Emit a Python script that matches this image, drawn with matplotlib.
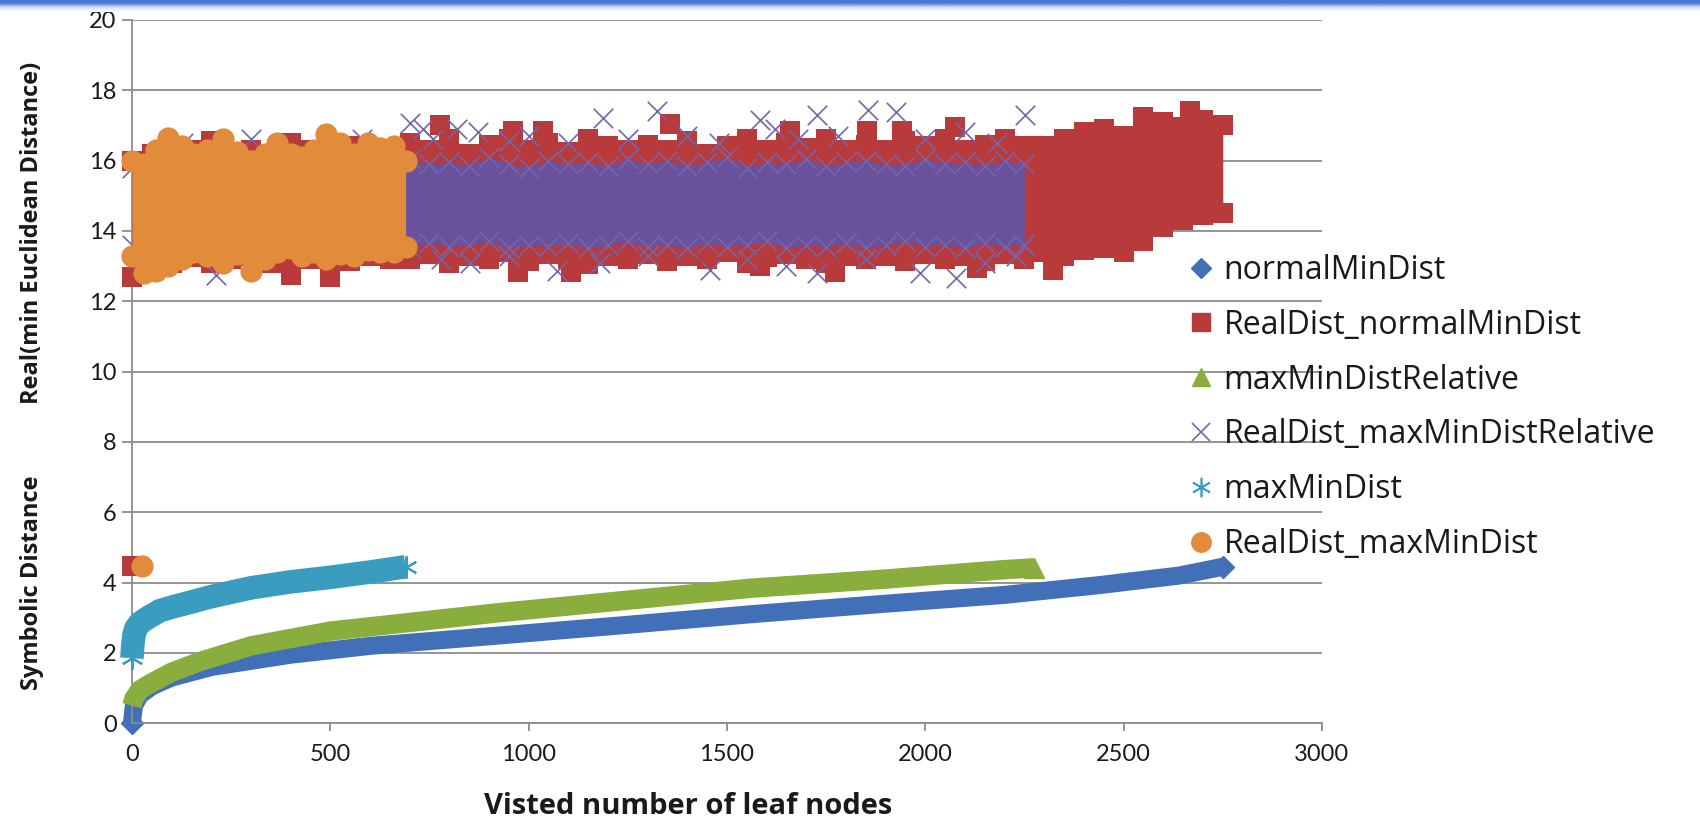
# scatter of symbolic vs real distances against visited leaf nodes
import numpy as np
import matplotlib.pyplot as plt
from matplotlib.lines import Line2D
from matplotlib.colors import LinearSegmentedColormap

# symbolic distance curves (dense series, read as band centre lines)
normal_x = [0, 5, 20, 50, 100, 200, 400, 600, 930, 1250, 1560, 1900, 2200, 2440, 2640, 2750]
normal_y = [0.0, 0.5, 0.8, 1.05, 1.3, 1.6, 1.95, 2.2, 2.5, 2.8, 3.1, 3.4, 3.65, 3.93, 4.2, 4.45]

relative_x = [0, 5, 20, 45, 100, 170, 300, 500, 930, 1250, 1560, 1900, 2190, 2275]
relative_y = [0.5, 0.7, 0.95, 1.12, 1.45, 1.75, 2.2, 2.62, 3.15, 3.5, 3.84, 4.1, 4.36, 4.42]

maxmin_x = [0, 2, 5, 10, 20, 40, 70, 100, 150, 200, 300, 400, 500, 600, 690]
maxmin_y = [1.85, 2.2, 2.5, 2.7, 2.85, 3.0, 3.2, 3.3, 3.45, 3.6, 3.85, 4.02, 4.15, 4.3, 4.45]

# RealDist_normalMinDist: cloud outline (edge marker centres) and stray points
red_x = list(range(0, 2751, 50))
red_hi = [16.0, 16.2, 16.1, 16.3, 16.55, 16.2, 16.3, 16.1, 16.5, 16.3, 16.2, 16.4, 16.1, 16.3,
          16.5, 16.3, 16.6, 16.2, 16.45, 16.6, 16.3, 16.5, 16.25, 16.6, 16.4, 16.3,
          16.45, 16.3, 16.55, 16.2, 16.4, 16.6, 16.3, 16.5, 16.35, 16.6, 16.3, 16.45,
          16.3, 16.55, 16.4, 16.6, 16.3, 16.45, 16.6, 16.4,
          16.4, 16.6, 16.8, 16.9, 16.7, 17.0, 17.1, 16.95, 17.15, 17.0]
red_lo = [12.7, 13.3, 13.1, 13.25, 13.1, 13.2, 13.3, 13.1, 12.75, 13.2, 12.7, 13.15, 13.3, 13.2,
          13.2, 13.35, 13.1, 13.3, 13.2, 13.4, 13.15, 13.35, 13.2, 13.05, 13.3, 13.2,
          13.35, 13.15, 13.3, 13.2, 13.4, 13.1, 13.25, 13.35, 13.2, 13.1, 13.3, 13.2,
          13.3, 13.15, 13.35, 13.2, 13.3, 13.15, 13.35, 13.2,
          13.4, 13.3, 13.45, 13.5, 13.4, 13.7, 14.1, 14.3, 14.45, 14.5]
red_px = [776, 961, 1037, 1357, 1659, 1853, 1941, 2075, 2548, 2668, 974, 1108, 1583, 1772, 2130, 2322, 0]
red_py = [17.0, 16.85, 16.85, 17.05, 16.85, 16.85, 16.85, 16.95, 17.25, 17.4, 12.84, 12.84, 13.0, 12.84,
          12.95, 12.9, 4.47]

# RealDist_maxMinDistRelative: dense core outline and stray crosses
purple_x = list(range(0, 2271, 50))
purple_hi = [15.8, 15.9, 15.85, 16.0, 15.8, 15.95, 15.85, 16.05, 15.9, 15.8, 16.0, 15.85, 15.95, 15.8,
             16.05, 15.9, 15.95, 15.85, 16.1, 15.9, 15.8, 16.0, 15.9, 15.95, 15.85, 16.05,
             15.9, 16.0, 15.85, 15.95, 16.1, 15.8, 15.95, 15.9, 16.05, 15.85, 15.95, 16.0,
             15.9, 15.85, 16.05, 15.9, 15.95, 15.85, 16.0, 15.9]
purple_lo = [13.6, 13.5, 13.65, 13.55, 13.7, 13.5, 13.6, 13.55, 13.65, 13.5, 13.6, 13.7, 13.55, 13.6,
             13.5, 13.65, 13.55, 13.6, 13.7, 13.5, 13.6, 13.55, 13.65, 13.5, 13.6, 13.7,
             13.55, 13.6, 13.5, 13.65, 13.55, 13.6, 13.7, 13.5, 13.6, 13.55, 13.65, 13.5,
             13.6, 13.7, 13.55, 13.6, 13.5, 13.65, 13.55, 13.6]
purple_px = [130, 300, 580, 700, 735, 760, 820, 872, 950, 1000, 1100, 1187, 1250, 1323, 1400, 1480,
             1583, 1620, 1680, 1727, 1780, 1855, 1925, 2000, 2100, 2180, 2252,
             213, 780, 852, 950, 1071, 1180, 1300, 1457, 1550, 1650, 1727, 1850, 1986, 2078, 2150, 2230]
purple_py = [16.5, 16.6, 16.6, 17.08, 16.9, 16.6, 16.9, 16.8, 16.55, 16.7, 16.5, 17.2, 16.6, 17.4, 16.7,
             16.5, 17.15, 16.9, 16.6, 17.3, 16.7, 17.44, 17.39, 16.6, 16.8, 16.5, 17.3,
             12.75, 13.2, 13.1, 13.3, 12.85, 13.1, 13.3, 12.9, 13.2, 13.0, 12.8, 13.2, 12.8, 12.67,
             13.1, 13.3]

# RealDist_maxMinDist: cloud outline and stray points
orange_x = [0, 30, 60, 90, 125, 155, 190, 230, 265, 300, 335, 365, 400, 430, 460, 490, 525, 560, 595, 625, 660, 690]
orange_hi = [16.0, 15.9, 16.3, 16.65, 16.4, 16.2, 16.3, 16.6, 16.25, 16.0, 16.2, 16.5, 16.2, 16.1, 16.3,
             16.75, 16.5, 16.2, 16.5, 16.35, 16.4, 16.0]
orange_lo = [13.3, 12.8, 12.85, 13.0, 13.2, 13.4, 13.3, 13.1, 13.35, 12.85, 13.2, 13.4, 13.5, 13.3, 13.4,
             13.2, 13.35, 13.3, 13.45, 13.4, 13.4, 13.55]
orange_px = [25]
orange_py = [4.47]

labels = ['normalMinDist', 'RealDist_normalMinDist', 'maxMinDistRelative',
          'RealDist_maxMinDistRelative', 'maxMinDist', 'RealDist_maxMinDist']
c_blue, c_red, c_green = '#4170B8', '#B93A3A', '#8AAE3E'
c_purple, c_teal, c_orange = '#7465AD', '#3A9DC0', '#E28B3A'
c_core = '#6A519C'
asterisk = (6, 2, 0)
open_sans = ['Open Sans', 'DejaVu Sans']

plt.rcParams['font.family'] = ['Lato', 'DejaVu Sans']

fig = plt.figure(figsize=(17, 8.25), dpi=100)
ax = fig.add_axes([0.0776, 0.1233, 0.70, 0.8526])

# series in the spreadsheet order, later ones on top
ax.plot(normal_x, normal_y, color=c_blue, lw=13, solid_capstyle='butt', marker='D', ms=11,
        markevery=[0, len(normal_x) - 1], clip_on=False, zorder=2)

ax.fill_between(red_x, red_lo, red_hi, color=c_red, lw=0, zorder=3)
ax.scatter(red_x + red_x + red_px, red_hi + red_lo + red_py, marker='s', s=14.5 ** 2,
           color=c_red, lw=0, clip_on=False, zorder=3)

ax.plot(relative_x, relative_y, color=c_green, lw=14, solid_capstyle='butt', marker='^', ms=14,
        markevery=[len(relative_x) - 1], clip_on=False, zorder=4)

ax.fill_between(purple_x, purple_lo, purple_hi, color=c_core, lw=0, zorder=5)
ax.scatter(purple_x + purple_x + purple_px, purple_hi + purple_lo + purple_py, marker='x', s=14 ** 2,
           color=c_purple, lw=1.2, clip_on=False, zorder=5)

ax.plot(maxmin_x, maxmin_y, color=c_teal, lw=17, solid_capstyle='butt', marker=asterisk, ms=16,
        mew=1.5, markevery=[0, 1, 2, len(maxmin_x) - 1], clip_on=False, zorder=6)

ax.fill_between(orange_x, orange_lo, orange_hi, color=c_orange, lw=0, zorder=7)
ax.scatter(orange_x + orange_x + orange_px, orange_hi + orange_lo + orange_py, marker='o', s=16 ** 2,
           color=c_orange, lw=0, clip_on=False, zorder=7)

ax.set_xlim(0, 3000)
ax.set_ylim(0, 20)
ax.set_xticks(np.arange(0, 3001, 500))
ax.set_yticks(np.arange(0, 21, 2))
ax.grid(axis='y', color='#8c8c8c', lw=1.3)
ax.set_axisbelow(True)
for side in ['top', 'right']:
    ax.spines[side].set_visible(False)
for side in ['left', 'bottom']:
    ax.spines[side].set_color('#8c8c8c')
    ax.spines[side].set_linewidth(1.3)
ax.tick_params(axis='y', length=7, width=1.3, color='#8c8c8c', labelsize=17, labelcolor='#1a1a1a', pad=4)
ax.tick_params(axis='x', length=6, width=1.3, color='#8c8c8c', labelsize=17, labelcolor='#1a1a1a', pad=9)

fig.text(0.405, 0.022, 'Visted number of leaf nodes', ha='center', va='center',
         fontsize=21, fontweight='bold', color='#1a1a1a', family=open_sans)
fig.text(0.019, 0.718, 'Real(min Euclidean Distance)', rotation=90, ha='center', va='center',
         fontsize=17, fontweight='bold', color='#1a1a1a', family=open_sans)
fig.text(0.019, 0.294, 'Symbolic Distance', rotation=90, ha='center', va='center',
         fontsize=17, fontweight='bold', color='#1a1a1a', family=open_sans)

handles = [
    Line2D([], [], ls='none', marker='D', ms=10, color=c_blue),
    Line2D([], [], ls='none', marker='s', ms=13, color=c_red),
    Line2D([], [], ls='none', marker='^', ms=13, color=c_green),
    Line2D([], [], ls='none', marker='x', ms=13, mew=1.2, color=c_purple),
    Line2D([], [], ls='none', marker=asterisk, ms=14, mew=1.2, color=c_teal),
    Line2D([], [], ls='none', marker='o', ms=14, color=c_orange),
]
fig.legend(handles, labels, loc='upper left', bbox_to_anchor=(0.699, 0.6925), frameon=False,
           prop={'family': open_sans, 'size': 23}, borderaxespad=0,
           handlelength=0.8, handletextpad=0.3, labelspacing=0.686, borderpad=0,
           labelcolor='#1a1a1a')

# thin blue banner along the top edge
band = fig.add_axes([0, 1 - 12 / 825, 1, 12 / 825])
shade = np.linspace(0, 1, 12)[:, None]
band.imshow(np.concatenate([np.zeros((3, 1)), shade], axis=0), aspect='auto',
            cmap=LinearSegmentedColormap.from_list('band', ['#4A76D0', '#D2DEF5', '#ffffff']),
            extent=[0, 1, 0, 1])
band.axis('off')

plt.savefig('out.png', dpi=100)
